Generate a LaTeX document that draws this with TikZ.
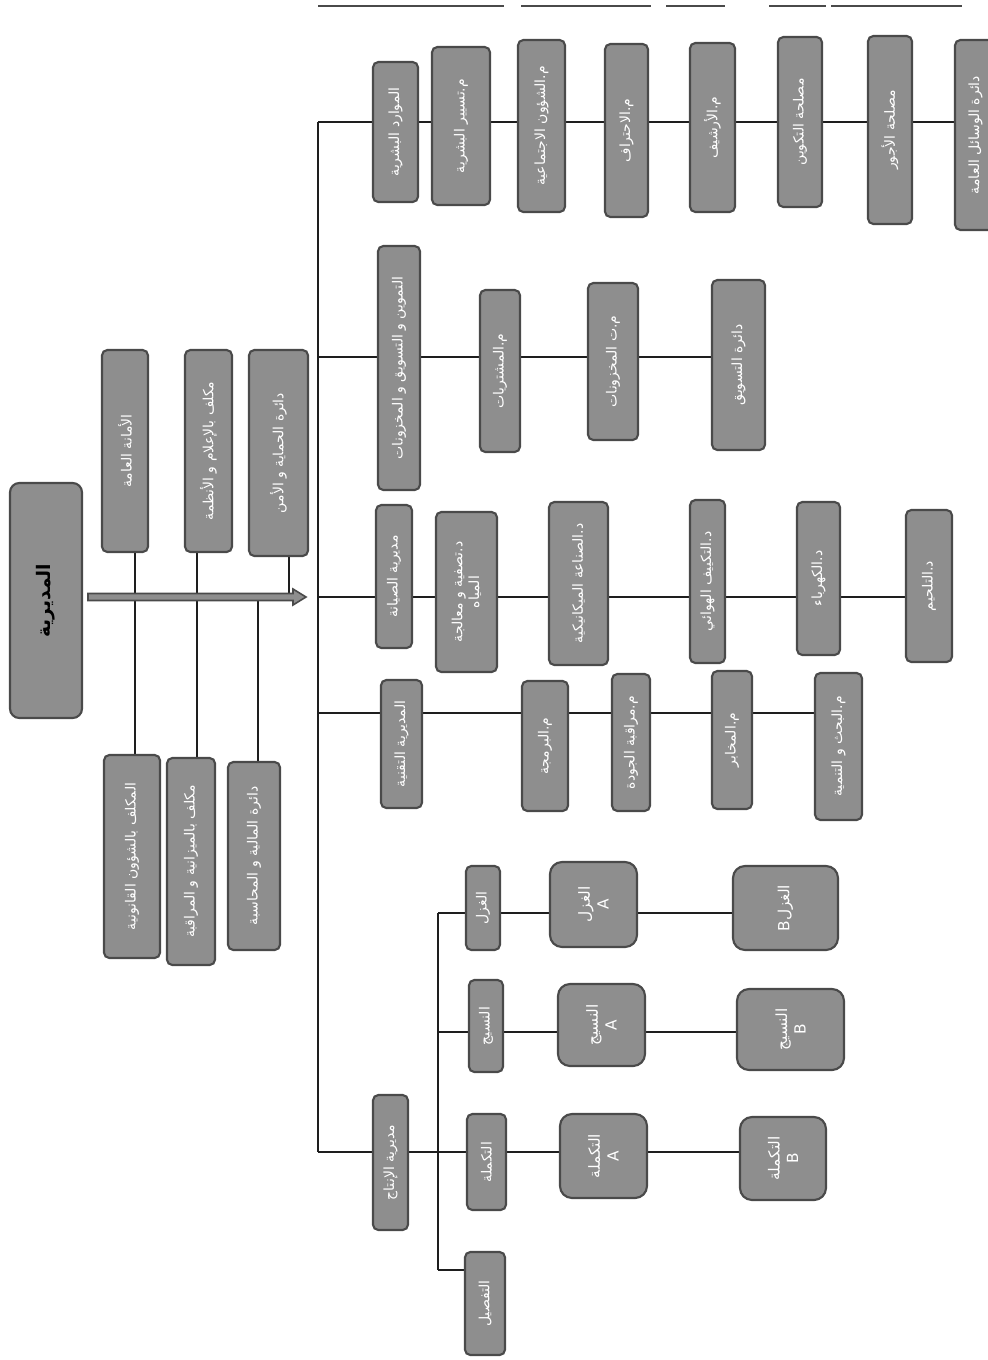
\documentclass[tikz,border=0pt]{standalone}
\usepackage{fontspec}
\newfontfamily\arabicfont[Script=Arabic]{DejaVu Sans}
\TeXXeTstate=1
\usetikzlibrary{backgrounds,calc}
\newcommand{\AR}[1]{\beginR #1\endR}
\definecolor{boxfill}{HTML}{8E8E8E}
\definecolor{boxline}{HTML}{4A4A4A}
\definecolor{connc}{HTML}{1E1E1E}
\tikzset{
  box/.style={rotate=90, draw=boxline, fill=boxfill, line width=1.6pt,
    rounded corners=4pt, inner sep=0pt, text=white,
    font=\arabicfont\fontsize{10.5}{12.5}\selectfont},
  twoline/.style={align=center},
  bigbox/.style={rounded corners=9pt, align=center, font=\arabicfont\fontsize{11.5}{14}\selectfont},
  rootbox/.style={rounded corners=7pt, text=black, font=\arabicfont\bfseries\fontsize{14}{16}\selectfont},
  conn/.style={draw=connc, line width=1.4pt},
  bigarrow/.style={draw=boxline, fill=boxfill, line width=1.2pt},
  topline/.style={draw=boxline, line width=2pt}
}
\newcommand{\bx}[7][]{%
  \pgfmathsetmacro\bxcx{(#3+#5)/2}%
  \pgfmathsetmacro\bxcy{(#4+#6)/2}%
  \pgfmathsetmacro\bxw{(#6-#4)*0.75}%
  \pgfmathsetmacro\bxh{(#5-#3)*0.75}%
  \node[box,#1,minimum width=\bxw pt,minimum height=\bxh pt] (#2) at (\bxcx,\bxcy) {#7};}
\begin{document}
\begin{tikzpicture}[x=0.75pt,y=-0.75pt]
\useasboundingbox (0,0) rectangle (988,1360);

% top scan lines
\draw[topline] (318,6) -- (504,6);
\draw[topline] (521,6) -- (651,6);
\draw[topline] (666,6) -- (725,6);
\draw[topline] (769,6) -- (826,6);
\draw[topline] (831,6) -- (962,6);

% staff
\bx[rootbox]{root}{10}{483}{82}{718}{\AR{المديرية}}
\bx{secg}{102}{350}{148}{552}{\AR{الأمانة العامة}}
\bx{info}{185}{350}{232}{552}{\AR{مكلف بالإعلام و الأنظمة}}
\bx{prot}{249}{350}{308}{556}{\AR{دائرة الحماية و الأمن}}
\bx{legal}{104}{755}{160}{958}{\AR{المكلف بالشؤون القانونية}}
\bx{budget}{167}{758}{215}{965}{\AR{مكلف بالميزانية و المراقبة}}
\bx{finance}{228}{762}{280}{950}{\AR{دائرة المالية و المحاسبة}}

% row 1
\bx{r1a}{373}{62}{418}{202}{\AR{الموارد البشرية}}
\bx{r1b}{432}{47}{490}{205}{\AR{م.تسيير البشرية}}
\bx{r1c}{518}{40}{565}{212}{\AR{م.الشؤون الاجتماعية}}
\bx{r1d}{605}{44}{648}{217}{\AR{م.الاحتراف}}
\bx{r1e}{690}{43}{735}{212}{\AR{م.الأرشيف}}
\bx{r1f}{778}{37}{822}{207}{\AR{مصلحة التكوين}}
\bx{r1g}{868}{36}{912}{224}{\AR{مصلحة الأجور}}
\bx{r1h}{955}{40}{996}{230}{\AR{دائرة الوسائل العامة}}

% row 2
\bx{r2a}{378}{246}{420}{490}{\AR{التموين و التسويق و المخزونات}}
\bx{r2b}{480}{290}{520}{452}{\AR{م.المشتريات}}
\bx{r2c}{588}{283}{638}{440}{\AR{م.ت المخزونات}}
\bx{r2d}{712}{280}{765}{450}{\AR{دائرة التسويق}}

% row 3
\bx{r3a}{376}{505}{412}{648}{\AR{مديرية الصيانة}}
\bx[twoline]{r3b}{436}{512}{497}{672}{\AR{د.تصفية و معالجة}\\\AR{المياه}}
\bx{r3c}{549}{502}{608}{665}{\AR{د.الصناعة الميكانيكية}}
\bx{r3d}{690}{500}{725}{663}{\AR{د.التكييف الهوائي}}
\bx{r3e}{797}{502}{840}{655}{\AR{د.الكهرباء}}
\bx{r3f}{906}{510}{952}{662}{\AR{د.التلحيم}}

% row 4
\bx{r4a}{381}{680}{422}{808}{\AR{المديرية التقنية}}
\bx{r4b}{522}{681}{568}{811}{\AR{م.البرمجة}}
\bx{r4c}{612}{674}{650}{811}{\AR{م.مراقبة الجودة}}
\bx{r4d}{712}{671}{752}{809}{\AR{م.المخابر}}
\bx{r4e}{815}{673}{862}{820}{\AR{م.البحث و التنمية}}

% row 5 (production)
\bx{prod}{373}{1095}{408}{1230}{\AR{مديرية الإنتاج}}
\bx{spin}{466}{866}{500}{950}{\AR{الغزل}}
\bx[bigbox]{spinA}{550}{862}{637}{947}{\AR{الغزل}\\A}
\bx[bigbox]{spinB}{733}{866}{838}{950}{B\AR{الغزل}}
\bx{weave}{469}{980}{503}{1072}{\AR{النسيج}}
\bx[bigbox]{weaveA}{558}{984}{645}{1066}{\AR{النسيج}\\A}
\bx[bigbox]{weaveB}{737}{989}{844}{1070}{\AR{النسيج}\\B}
\bx{compl}{467}{1114}{506}{1210}{\AR{التكملة}}
\bx[bigbox]{complA}{560}{1114}{647}{1198}{\AR{التكملة}\\A}
\bx[bigbox]{complB}{740}{1117}{826}{1200}{\AR{التكملة}\\B}
\bx{tafsil}{465}{1252}{505}{1355}{\AR{التفصيل}}

% named coordinates
\coordinate (busT) at (318,122);
\coordinate (busB) at (318,1152);
\coordinate (b2) at (318,357);
\coordinate (b3) at (318,597);
\coordinate (b4) at (318,713);
\coordinate (sT) at (438,913);
\coordinate (s2) at (438,1032);
\coordinate (sB) at (438,1270);
\coordinate (l1) at (135,0);
\coordinate (l2) at (197,0);
\coordinate (l3) at (289,0);
\coordinate (l4) at (258,0);
\coordinate (arS) at (88,597);
\coordinate (arE) at (306,597);

\begin{pgfonlayer}{background}
  \fill[white] (0,0) rectangle (988,1360);
  \draw[conn] (busT) -- (busB);
  \draw[conn] (busT) -- (busT -| r1h.center);
  \draw[conn] (b2) -- (b2 -| r2d.center);
  \draw[conn] (b3) -- (b3 -| r3f.center);
  \draw[conn] (b4) -- (b4 -| r4e.center);
  \draw[conn] (busB) -- (busB -| complB.center);
  \draw[conn] (sT) -- (sB);
  \draw[conn] (sT) -- (sT -| spinB.center);
  \draw[conn] (s2) -- (s2 -| weaveB.center);
  \draw[conn] (sB) -- (sB -| tafsil.center);
  \draw[conn] (secg.center -| l1) -- (legal.center -| l1);
  \draw[conn] (info.center -| l2) -- (budget.center -| l2);
  \draw[conn] (prot.center -| l3) -- (arS -| l3);
  \draw[conn] (arS -| l4) -- (finance.center -| l4);
\end{pgfonlayer}

% main arrow from root to bus
\draw[bigarrow] ($(arS)+(0,-3.5)$) -- ($(arE)+(-13,-3.5)$) -- ($(arE)+(-13,-8)$)
  -- (arE) -- ($(arE)+(-13,8)$) -- ($(arE)+(-13,3.5)$) -- ($(arS)+(0,3.5)$) -- cycle;
\end{tikzpicture}
\end{document}
